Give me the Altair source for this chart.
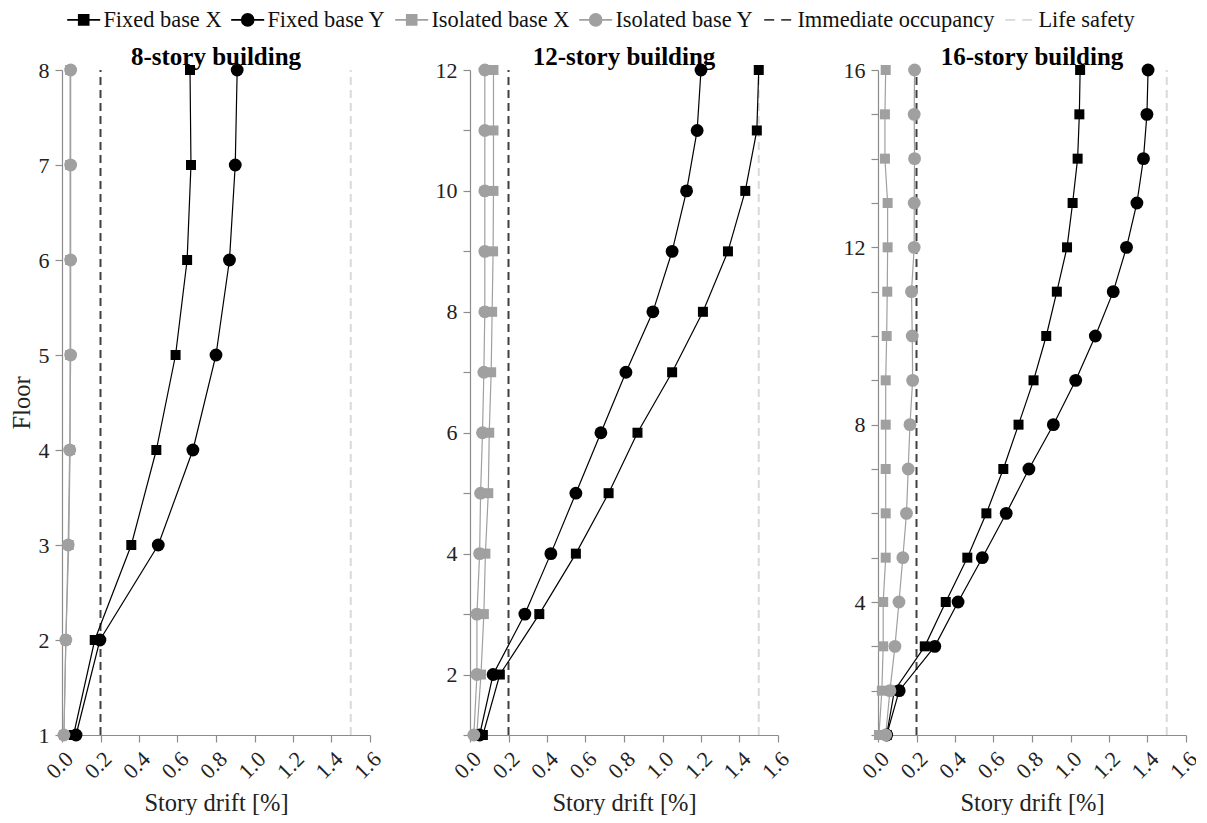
import altair as alt
import pandas as pd

FONT = "Liberation Serif"

SERIES = ["Fixed base X", "Fixed base Y", "Isolated base X", "Isolated base Y",
          "Immediate occupancy", "Life safety"]
COLORS = ["#000000", "#000000", "#a0a0a0", "#a0a0a0", "#404040", "#d9d9d9"]
_SQ = "M-1.65,0H1.65M-0.5,-0.5H0.5V0.5H-0.5Z"
_CI = "M-1.65,0H1.65M-0.6,0A0.6,0.6 0 1,1 0.6,0A0.6,0.6 0 1,1 -0.6,0Z"
_DA = "M-1.35,0H-0.35M0.35,0H1.35"
SYMBOLS = [_SQ, _CI, _SQ, _CI, _DA, _DA]

# limit states (story drift %)
LIMITS = [0.2, 1.5]
LIMIT_NAMES = ["Immediate occupancy", "Life safety"]

X_TICKS = [0.0, 0.2, 0.4, 0.6, 0.8, 1.0, 1.2, 1.4, 1.6]

# 8-story building
floors8 = [1, 2, 3, 4, 5, 6, 7, 8]
fixed_x8 = [0.06, 0.17, 0.36, 0.49, 0.59, 0.65, 0.67, 0.665]
fixed_y8 = [0.073, 0.197, 0.50, 0.68, 0.80, 0.87, 0.90, 0.91]
iso_x8 = [0.01, 0.02, 0.035, 0.042, 0.042, 0.042, 0.042, 0.042]
iso_y8 = [0.01, 0.02, 0.032, 0.04, 0.045, 0.045, 0.045, 0.045]

# 12-story building
floors12 = list(range(1, 13))
fixed_x12 = [0.067, 0.155, 0.36, 0.55, 0.72, 0.87, 1.05, 1.21, 1.34, 1.43, 1.49, 1.50]
fixed_y12 = [0.05, 0.12, 0.285, 0.42, 0.55, 0.68, 0.81, 0.95, 1.05, 1.125, 1.18, 1.20]
iso_x12 = [0.035, 0.057, 0.072, 0.08, 0.095, 0.10, 0.11, 0.115, 0.12, 0.122, 0.122, 0.122]
iso_y12 = [0.02, 0.036, 0.036, 0.05, 0.055, 0.065, 0.072, 0.077, 0.077, 0.077, 0.077, 0.077]

# 16-story building
floors16 = list(range(1, 17))
fixed_x16 = [0.045, 0.085, 0.243, 0.352, 0.464, 0.563, 0.651, 0.730, 0.808, 0.874,
             0.929, 0.982, 1.011, 1.037, 1.046, 1.05]
fixed_y16 = [0.045, 0.11, 0.295, 0.416, 0.542, 0.666, 0.784, 0.911, 1.027, 1.129,
             1.222, 1.291, 1.345, 1.379, 1.397, 1.403]
iso_x16 = [0.005, 0.02, 0.027, 0.027, 0.04, 0.04, 0.04, 0.04, 0.04, 0.045,
           0.048, 0.05, 0.05, 0.036, 0.036, 0.04]
iso_y16 = [0.04, 0.062, 0.088, 0.109, 0.129, 0.148, 0.157, 0.166, 0.18, 0.178,
           0.174, 0.188, 0.188, 0.19, 0.188, 0.19]

# colour scale for the plotted marks (domain order reversed so that it is not
# merged with the legend's scales)
color_scale = alt.Scale(domain=SERIES[::-1], range=COLORS[::-1])


def long_df(floors, fx, fy, ix, iy):
    rows = []
    for name, vals in zip(SERIES[:4], [fx, fy, ix, iy]):
        for f, v in zip(floors, vals):
            rows.append({"floor": f, "drift": v, "series": name})
    return pd.DataFrame(rows)


def make_panel(title, floors, fx, fy, ix, iy, label_step, show_ytitle, with_legend):
    df = long_df(floors, fx, fy, ix, iy)
    top = max(floors)
    limits = pd.DataFrame({"drift": LIMITS, "series": LIMIT_NAMES,
                           "y0": [1, 1], "y1": [top, top]})

    x = alt.X("drift:Q",
              scale=alt.Scale(domain=[0, 1.6], nice=False, zero=False),
              axis=alt.Axis(values=X_TICKS, tickCount=40, format=".1f", labelAngle=-45,
                            labelOverlap=False, labelFlush=False,
                            title="Story drift [%]", titlePadding=9))
    if label_step == 1:
        lab = "datum.label"
    else:
        lab = f"datum.value % {label_step} == 0 ? datum.label : ''"
    y = alt.Y("floor:Q",
              scale=alt.Scale(domain=[1, top], nice=False, zero=False),
              axis=alt.Axis(values=floors, tickCount=40, labelExpr=lab, format="d",
                            labelOverlap=False, labelFlush=False,
                            title="Floor" if show_ytitle else None,
                            titlePadding=4))
    color = alt.Color("series:N", scale=color_scale, legend=None)

    base = alt.Chart(df)
    lines = base.mark_line(strokeWidth=1.2).encode(
        x=x, y=y, color=color, detail="series:N", order=alt.Order("floor:Q"))
    squares = base.transform_filter(
        alt.FieldOneOfPredicate(field="series", oneOf=["Fixed base X", "Isolated base X"])
    ).mark_point(shape="square", filled=True, size=100, opacity=1).encode(
        x=x, y=y, color=color)
    circles = base.transform_filter(
        alt.FieldOneOfPredicate(field="series", oneOf=["Fixed base Y", "Isolated base Y"])
    ).mark_point(shape="circle", filled=True, size=165, opacity=1).encode(
        x=x, y=y, color=color)
    rules = alt.Chart(limits).mark_rule(strokeWidth=2, strokeDash=[8, 5]).encode(
        x=x, y=alt.Y("y0:Q"), y2="y1:Q", color=color)

    layers = [rules, lines, squares, circles]
    if with_legend:
        leg = alt.Legend(orient="none", legendX=4, legendY=-61.5, direction="horizontal",
                         title=None, labelFont=FONT, labelFontSize=22.4, labelColor="#111",
                         symbolSize=400, symbolStrokeWidth=1.6, symbolOffset=6.5,
                         labelOffset=8.5, columnPadding=6, labelLimit=400, padding=0)
        # carrier layer for the legend (its marks lie outside the plot and are clipped)
        legend_layer = alt.Chart(limits).mark_point(
            filled=True, opacity=1, strokeWidth=1.6, clip=True).encode(
            x=alt.value(-200), y=alt.value(-200),
            fill=alt.Fill("series:N", scale=alt.Scale(domain=SERIES, range=COLORS), legend=leg),
            stroke=alt.Stroke("series:N", scale=alt.Scale(domain=SERIES, range=COLORS), legend=leg),
            shape=alt.Shape("series:N", scale=alt.Scale(domain=SERIES, range=SYMBOLS), legend=leg),
        )
        layers.append(legend_layer)

    return alt.layer(*layers).properties(
        width=308, height=665,
        title=alt.TitleParams(title, font=FONT, fontSize=25, fontWeight="bold",
                              color="#000", offset=-11, anchor="middle", frame="group"))


p1 = make_panel("8-story building", floors8, fixed_x8, fixed_y8, iso_x8, iso_y8, 1, True, True)
p2 = make_panel("12-story building", floors12, fixed_x12, fixed_y12, iso_x12, iso_y12, 2, False, False)
p3 = make_panel("16-story building", floors16, fixed_x16, fixed_y16, iso_x16, iso_y16, 4, False, False)

chart = alt.hconcat(p1, p2, p3, spacing=100, bounds="flush").resolve_scale(
    x="independent", y="independent", color="independent",
    fill="shared", stroke="shared", shape="shared"
).properties(
    padding={"left": 1, "top": 0, "right": -5, "bottom": 0}
).configure_view(stroke=None).configure_axis(
    labelFont=FONT, titleFont=FONT, labelFontSize=22, titleFontSize=24.5,
    titleFontWeight="normal", labelColor="#222", titleColor="#222",
    domainColor="#8c8c8c", tickColor="#8c8c8c", grid=False, tickSize=7,
    labelPadding=6, domainWidth=1.2, tickWidth=1.2
)

chart.save("out.html", embed_options={"renderer": "svg", "actions": False})
